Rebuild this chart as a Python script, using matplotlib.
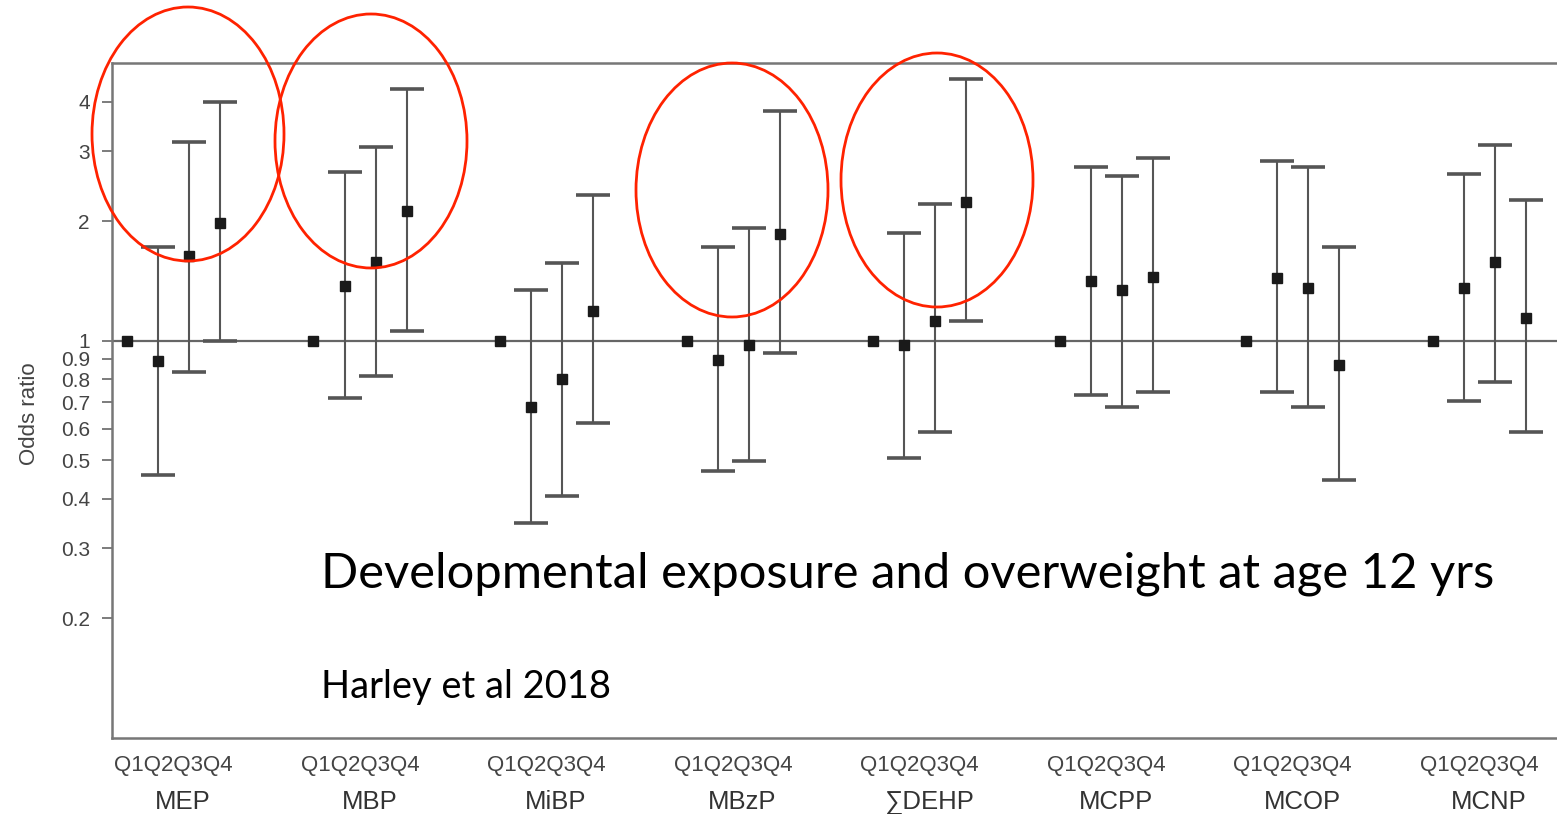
import matplotlib
matplotlib.use("Agg")
import matplotlib.pyplot as plt
from matplotlib.patches import Ellipse
import numpy as np

groups = ["MEP", "MBP", "MiBP", "MBzP", "\u2211DEHP", "MCPP", "MCOP", "MCNP"]
quartiles = ["Q1", "Q2", "Q3", "Q4"]

# odds ratio and 95% CI per group, Q1..Q4 (Q1 = reference)
odds = [
    [1, 0.89, 1.63, 1.98],
    [1, 1.37, 1.58, 2.12],
    [1, 0.68, 0.80, 1.19],
    [1, 0.895, 0.975, 1.86],
    [1, 0.975, 1.12, 2.24],
    [1, 1.41, 1.34, 1.45],
    [1, 1.44, 1.36, 0.87],
    [1, 1.36, 1.58, 1.14],
]
ci_low = [
    [None, 0.458, 0.835, 1.0],
    [None, 0.717, 0.815, 1.06],
    [None, 0.348, 0.407, 0.62],
    [None, 0.471, 0.497, 0.93],
    [None, 0.506, 0.588, 1.12],
    [None, 0.73, 0.68, 0.743],
    [None, 0.743, 0.68, 0.447],
    [None, 0.705, 0.787, 0.588],
]
ci_high = [
    [None, 1.72, 3.17, 3.98],
    [None, 2.66, 3.08, 4.29],
    [None, 1.34, 1.57, 2.33],
    [None, 1.72, 1.92, 3.78],
    [None, 1.87, 2.21, 4.55],
    [None, 2.74, 2.60, 2.89],
    [None, 2.84, 2.74, 1.72],
    [None, 2.63, 3.11, 2.26],
]
yticks = [0.2, 0.3, 0.4, 0.5, 0.6, 0.7, 0.8, 0.9, 1, 2, 3, 4]

plt.rcParams["font.family"] = ["Liberation Sans", "DejaVu Sans"]

W, H = 1557, 814
fig = plt.figure(figsize=(W / 100, H / 100), dpi=100)
ax = fig.add_axes([112 / W, 1 - 738 / H, 1 - 112 / W, (738 - 63) / H])

ax.axhline(1, color="#666666", lw=1.6, zorder=1)

for g in range(len(groups)):
    for q in range(4):
        x = g * 6 + q
        if ci_low[g][q] is not None:
            lo, hi = ci_low[g][q], ci_high[g][q]
            ax.errorbar([x], [odds[g][q]], yerr=[[odds[g][q] - lo], [hi - odds[g][q]]],
                        fmt="none", ecolor="#555555", elinewidth=1.5, capsize=12, capthick=2.6,
                        zorder=2)
        ax.plot([x], [odds[g][q]], marker="s", ms=7.5, color="#1a1a1a", ls="none", zorder=3)

ax.set_yscale("log")
ax.set_ylim(0.1, 5)
ax.set_xlim(-0.48, 46.0)
ax.set_yticks(yticks)
ax.set_yticklabels([f"{v:g}" for v in yticks], fontsize=15, color="#444444")
ax.yaxis.set_minor_locator(matplotlib.ticker.NullLocator())
ax.tick_params(axis="y", length=7, width=1.2, color="#666666", pad=9)
ax.set_xticks([])
ax.set_ylabel("Odds ratio", fontsize=16, color="#444444")
ax.yaxis.set_label_coords(-0.050, 0.48)

for s in ["left", "bottom", "top"]:
    ax.spines[s].set_color("#777777")
    ax.spines[s].set_linewidth(1.8)
ax.spines["right"].set_visible(False)

for g, name in enumerate(groups):
    xc = g * 6 + 1.5
    ax.text(xc, -0.04, "".join(quartiles), transform=ax.get_xaxis_transform(),
            ha="center", va="center", fontsize=16, color="#444444")
    ax.text(xc + 0.3, -0.095, name, transform=ax.get_xaxis_transform(),
            ha="center", va="center", fontsize=18.5, color="#333333")

# red ellipses (annotation overlay, figure pixel coordinates)
for cx, cy in [(188, 134), (371, 141), (732, 190), (937, 180)]:
    fig.patches.append(Ellipse((cx / W, 1 - cy / H), 192 / W, 254 / H, transform=fig.transFigure,
                               fill=False, ec="#ff2200", lw=2.0, zorder=10))

# overlay text, fitted to width
renderer = fig.canvas.get_renderer()
def fit_text(x, y, s, target_w, size0):
    t = fig.text(x / W, 1 - y / H, s, fontsize=size0, family=["Lato", "DejaVu Sans"],
                 color="black", ha="left", va="baseline")
    w = t.get_window_extent(renderer).width
    t.set_fontsize(size0 * target_w / w)
    return t

fit_text(321, 588, "Developmental exposure and overweight at age 12 yrs", 1176, 36)
fit_text(321, 698, "Harley et al 2018", 291, 24)

fig.savefig("out.png", dpi=100)
